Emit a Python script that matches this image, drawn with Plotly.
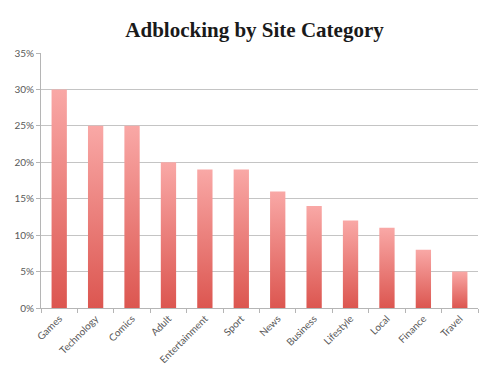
import plotly.graph_objects as go

categories = ["Games", "Technology", "Comics", "Adult", "Entertainment", "Sport",
              "News", "Business", "Lifestyle", "Local", "Finance", "Travel"]
values = [0.30, 0.25, 0.25, 0.20, 0.19, 0.19, 0.16, 0.14, 0.12, 0.11, 0.08, 0.05]
y_ticks = [0, 0.05, 0.10, 0.15, 0.20, 0.25, 0.30, 0.35]

BAR_HALF = 0.21
TOP_COLOR = "#f9a8a6"
BOTTOM_COLOR = "#dc5650"

fig = go.Figure()
for i, (cat, v) in enumerate(zip(categories, values)):
    xs = [i - BAR_HALF, i + BAR_HALF, i + BAR_HALF, i - BAR_HALF, i - BAR_HALF]
    ys = [0, 0, v, v, 0]
    fig.add_trace(go.Scatter(
        x=xs, y=ys, mode="lines", fill="toself",
        line=dict(width=0, color=BOTTOM_COLOR),
        fillgradient=dict(type="vertical",
                          colorscale=[[0, BOTTOM_COLOR], [1, TOP_COLOR]],
                          start=0, stop=v),
        hoverinfo="skip", showlegend=False,
    ))

fig.update_layout(
    width=500, height=376,
    margin=dict(l=33, r=30, t=45, b=76),
    paper_bgcolor="white", plot_bgcolor="white",
    title=dict(text="<b>Adblocking by Site Category</b>",
               font=dict(family="Liberation Serif", size=21, color="#1a1a1a"),
               x=0.493, xanchor="center", y=1 - 22 / 376, yanchor="middle"),
    showlegend=False,
)
fig.update_xaxes(
    range=[-0.5, len(categories) - 0.5], automargin=False,
    tickmode="array", tickvals=list(range(len(categories))), ticktext=categories,
    tickangle=-45, tickfont=dict(family="Lato", size=10, color="#595959"),
    showgrid=False, showline=True, linecolor="#b5b5b5", linewidth=1,
    ticks="", zeroline=False,
    minor=dict(tickmode="array", tickvals=[i - 0.5 for i in range(len(categories) + 1)],
               ticks="outside", ticklen=4, tickcolor="#b5b5b5", showgrid=False),
)
fig.update_yaxes(
    range=[0, 0.35], automargin=False,
    tickmode="array", tickvals=y_ticks, ticktext=[f"{int(round(t*100))}%" for t in y_ticks],
    tickfont=dict(family="Lato", size=10, color="#595959"),
    showgrid=True, gridcolor="#c4c4c4", gridwidth=1,
    showline=True, linecolor="#b5b5b5", linewidth=1,
    ticks="outside", ticklen=4, tickcolor="#b5b5b5",
    zeroline=False,
)

fig.write_html("out.html")
